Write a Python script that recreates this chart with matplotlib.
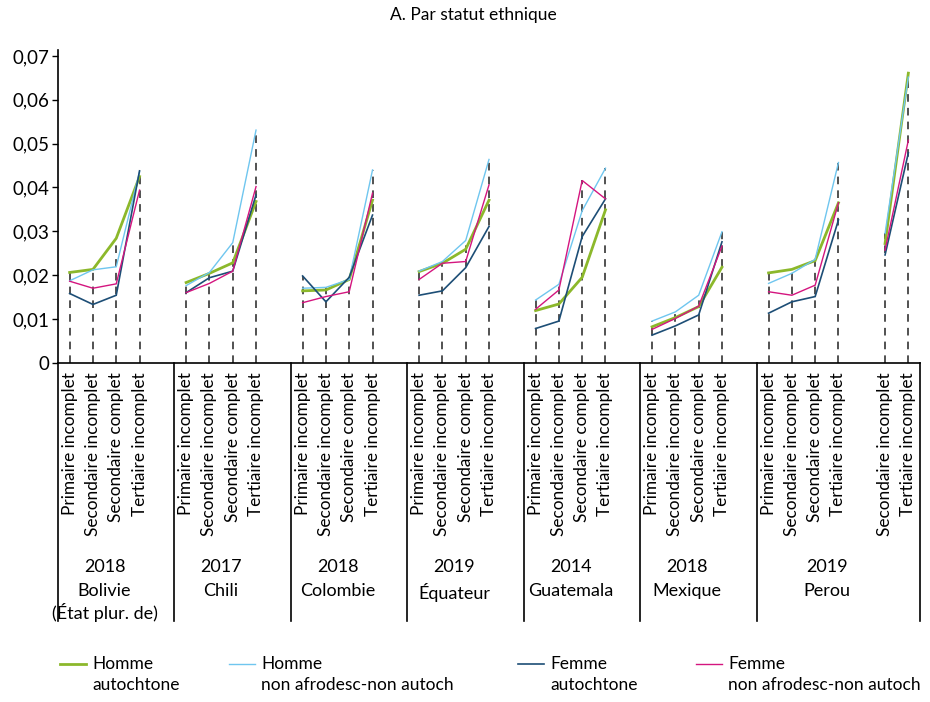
import numpy as np
import matplotlib
matplotlib.use("Agg")
import matplotlib.pyplot as plt
import matplotlib.transforms as mtransforms
from matplotlib.lines import Line2D

plt.rcParams['font.family'] = ['Lato', 'DejaVu Sans']

nan = np.nan

# Slot labels along the category axis ("" = empty slot separating groups)
slot_labels = [
    "Primaire incomplet", "Secondaire incomplet", "Secondaire complet", "Tertiaire incomplet", "",
    "Primaire incomplet", "Secondaire incomplet", "Secondaire complet", "Tertiaire incomplet", "",
    "Primaire incomplet", "Secondaire incomplet", "Secondaire complet", "Tertiaire incomplet", "",
    "Primaire incomplet", "Secondaire incomplet", "Secondaire complet", "Tertiaire incomplet", "",
    "Primaire incomplet", "Secondaire incomplet", "Secondaire complet", "Tertiaire incomplet", "",
    "Primaire incomplet", "Secondaire incomplet", "Secondaire complet", "Tertiaire incomplet", "",
    "Primaire incomplet", "Secondaire incomplet", "Secondaire complet", "Tertiaire incomplet", "",
    "Secondaire incomplet", "Tertiaire incomplet",
]

# Country groups: (year, name, number of slots)
group_years = ["2018", "2017", "2018", "2019", "2014", "2018", "2019"]
group_names = ["Bolivie\n(État plur. de)", "Chili", "Colombie", "Équateur",
               "Guatemala", "Mexique", "Perou"]
group_sizes = [5, 5, 5, 5, 5, 5, 7]

homme_autochtone = [
    0.0206, 0.0213, 0.0284, 0.0425, nan,
    0.0183, 0.0204, 0.0228, 0.0368, nan,
    0.0164, 0.0166, 0.0190, 0.0371, nan,
    0.0208, 0.0227, 0.0259, 0.0371, nan,
    0.0119, 0.0134, 0.0195, 0.0349, nan,
    0.0082, 0.0103, 0.0128, 0.0218, nan,
    0.0205, 0.0213, 0.0233, 0.0365, nan,
    0.0272, 0.0661,
]
homme_non_afro = [
    0.0187, 0.0212, 0.0219, 0.0436, nan,
    0.0176, 0.0206, 0.0274, 0.0531, nan,
    0.0170, 0.0172, 0.0190, 0.0440, nan,
    0.0209, 0.0231, 0.0279, 0.0464, nan,
    0.0143, 0.0179, 0.0347, 0.0444, nan,
    0.0095, 0.0116, 0.0154, 0.0299, nan,
    0.0181, 0.0204, 0.0236, 0.0457, nan,
    0.0295, 0.0652,
]
femme_autochtone = [
    0.0158, 0.0133, 0.0154, 0.0438, nan,
    0.0160, 0.0194, 0.0209, 0.0383, nan,
    0.0198, 0.0139, 0.0195, 0.0337, nan,
    0.0154, 0.0164, 0.0217, 0.0311, nan,
    0.0078, 0.0095, 0.0288, 0.0374, nan,
    0.0063, 0.0084, 0.0109, 0.0276, nan,
    0.0113, 0.0139, 0.0151, 0.0326, nan,
    0.0246, 0.0479,
]
femme_non_afro = [
    0.0186, 0.0170, 0.0180, 0.0394, nan,
    0.0160, 0.0181, 0.0209, 0.0402, nan,
    0.0137, 0.0151, 0.0162, 0.0387, nan,
    0.0190, 0.0227, 0.0231, 0.0406, nan,
    0.0122, 0.0166, 0.0416, 0.0374, nan,
    0.0076, 0.0101, 0.0129, 0.0266, nan,
    0.0162, 0.0154, 0.0177, 0.0365, nan,
    0.0257, 0.0508,
]

series = [
    ("Homme\nautochtone", homme_autochtone, "#8cb82b", 2.0),
    ("Homme\nnon afrodesc-non autoch", homme_non_afro, "#6fc6ef", 1.0),
    ("Femme\nautochtone", femme_autochtone, "#1d4e76", 1.2),
    ("Femme\nnon afrodesc-non autoch", femme_non_afro, "#d4157f", 1.0),
]

W, H = 930, 702
fig = plt.figure(figsize=(W / 100, H / 100), dpi=100)

x0_px, x1_px = 58, 920
y0_px, y1_px = 362.7, 49.5
ax = fig.add_axes([x0_px / W, 1 - y0_px / H, (x1_px - x0_px) / W, (y0_px - y1_px) / H])

x = np.arange(len(slot_labels))
ax.set_xlim(-0.5, len(slot_labels) - 0.5)
ax.set_ylim(0, 0.0715)

# Drop lines from the axis to the highest series at each category
stack = np.array([s[1] for s in series])
tops = np.nanmax(np.where(np.isnan(stack), -1, stack), axis=0)
valid = tops > 0
ax.vlines(x[valid], 0, tops[valid], colors="#222222", linestyles=(0, (5, 4)),
          linewidth=1.1, zorder=1)

for label, vals, color, lw in series:
    ax.plot(x, vals, color=color, linewidth=lw, zorder=3, solid_joinstyle="miter")

# Axes styling
for side in ("top", "right"):
    ax.spines[side].set_visible(False)
ax.spines["left"].set_linewidth(1.2)
ax.spines["bottom"].set_linewidth(1.2)
yt = np.arange(0, 0.0701, 0.01)
ax.set_yticks(yt)
ax.set_yticklabels(["0"] + [f"0,{i:02d}" for i in range(1, 8)], fontsize=13.5)
ax.tick_params(axis="y", length=4, width=1, pad=2)
ax.set_xticks([])

# Category labels, rotated, hanging below the axis
bt = mtransforms.blended_transform_factory(ax.transData, fig.transFigure)
for xi, lab in zip(x, slot_labels):
    if lab:
        fig.text(xi, 1 - 372 / H, lab, rotation=90, ha="center", va="top",
                 fontsize=12.4, transform=bt)

# Group separators and group labels
edge = -0.5
bounds = [edge]
for n in group_sizes:
    edge += n
    bounds.append(edge)
for b in bounds:
    fig.add_artist(Line2D([b, b], [1 - y0_px / H, 1 - 621 / H], transform=bt,
                          color="black", linewidth=1.2))
for i, (yr, name) in enumerate(zip(group_years, group_names)):
    cx = (bounds[i] + bounds[i + 1] - 1) / 2
    fig.text(cx, 1 - 567 / H, yr, ha="center", va="center", fontsize=13, transform=bt)
    fig.text(cx, 1 - 583 / H, name, ha="center", va="top", fontsize=13,
             transform=bt, linespacing=1.25)

fig.text(473 / W, 1 - 15 / H, "A. Par statut ethnique", ha="center", va="center",
         fontsize=12.5)

# Legend along the bottom
leg_x = [60, 229, 518, 696]
for lx, (label, vals, color, lw) in zip(leg_x, series):
    fig.add_artist(Line2D([lx / W, (lx + 26) / W], [1 - 664 / H] * 2,
                          transform=fig.transFigure, color=color, linewidth=lw))
    fig.text((lx + 32) / W, 1 - 656 / H, label, ha="left", va="top", fontsize=12.5,
             linespacing=1.42)

fig.savefig("out.png", dpi=100)
